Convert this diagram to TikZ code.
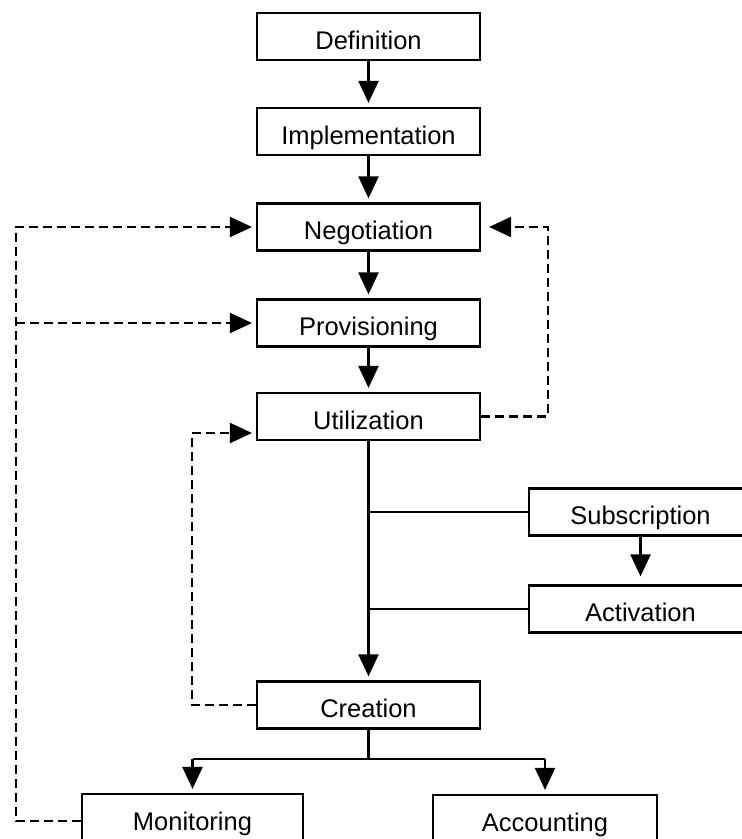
\documentclass[tikz,border=0pt]{standalone}
\usepackage{fontspec}
\setmainfont{Liberation Sans}
\usetikzlibrary{arrows.meta}
\begin{document}
\begin{tikzpicture}[x=1bp,y=-1bp,
  box/.style={draw,line width=2.2bp,minimum width=223bp,minimum height=47bp,inner sep=0pt,text height=28bp,text depth=3bp,font=\fontsize{25.5bp}{30bp}\selectfont},
  flow/.style={line width=2.2bp,-{Triangle[length=22bp,width=20bp]},shorten >=4bp},
  fb/.style={flow,dash pattern=on 9bp off 5bp},
  link/.style={line width=2.2bp}]
\useasboundingbox (0,0) rectangle (742,839);
\node[box] (def)  at (368.5,36.5) {Definition};
\node[box] (impl) at (368.5,131.5) {Implementation};
\node[box] (neg)  at (368.5,227) {Negotiation};
\node[box] (prov) at (368.5,323) {Provisioning};
\node[box] (util) at (368.5,416.5) {Utilization};
\node[box] (sub)  at (640.5,512) {Subscription};
\node[box] (act)  at (640.5,609) {Activation};
\node[box] (cre)  at (368.5,705) {Creation};
\node[box, minimum width=221bp] (mon) at (192.5,817.5) {Monitoring};
\node[box, minimum width=224bp] (acc) at (545,818.5) {Accounting};
% main flow
\draw[flow] (def) -- (impl);
\draw[flow] (impl) -- (neg);
\draw[flow] (neg) -- (prov);
\draw[flow] (prov) -- (util);
\draw[flow] (util) -- (cre);
\draw[flow, shorten >=8bp] (sub) -- (act);
% branches to subscription/activation
\draw[link] (util.south |- sub.west) -- (sub.west);
\draw[link] (util.south |- act.west) -- (act.west);
% creation split
\coordinate (j) at (368.5,759);
\draw[link] (cre.south) -- (j);
\draw[link] (mon.north |- j) -- (acc.north |- j);
\draw[flow] (mon.north |- j) -- (mon.north);
\draw[flow] (acc.north |- j) -- (acc.north);
% feedback: utilization -> negotiation
\coordinate (r1) at (548,0);
\draw[fb, shorten >=8bp] (util.east) -- (util.east -| r1) -- (neg.east -| r1) -- (neg.east);
% feedback: creation -> utilization
\coordinate (c1) at (192,433);
\draw[fb] (cre.west) -| (c1) -- (util.west |- c1);
% feedback: monitoring -> negotiation / provisioning
\coordinate (m1) at (16,821);
\draw[fb] (mon.west |- m1) -- (m1) |- (neg.west);
\draw[fb] (m1 |- prov.west) -- (prov.west);
\end{tikzpicture}
\end{document}
